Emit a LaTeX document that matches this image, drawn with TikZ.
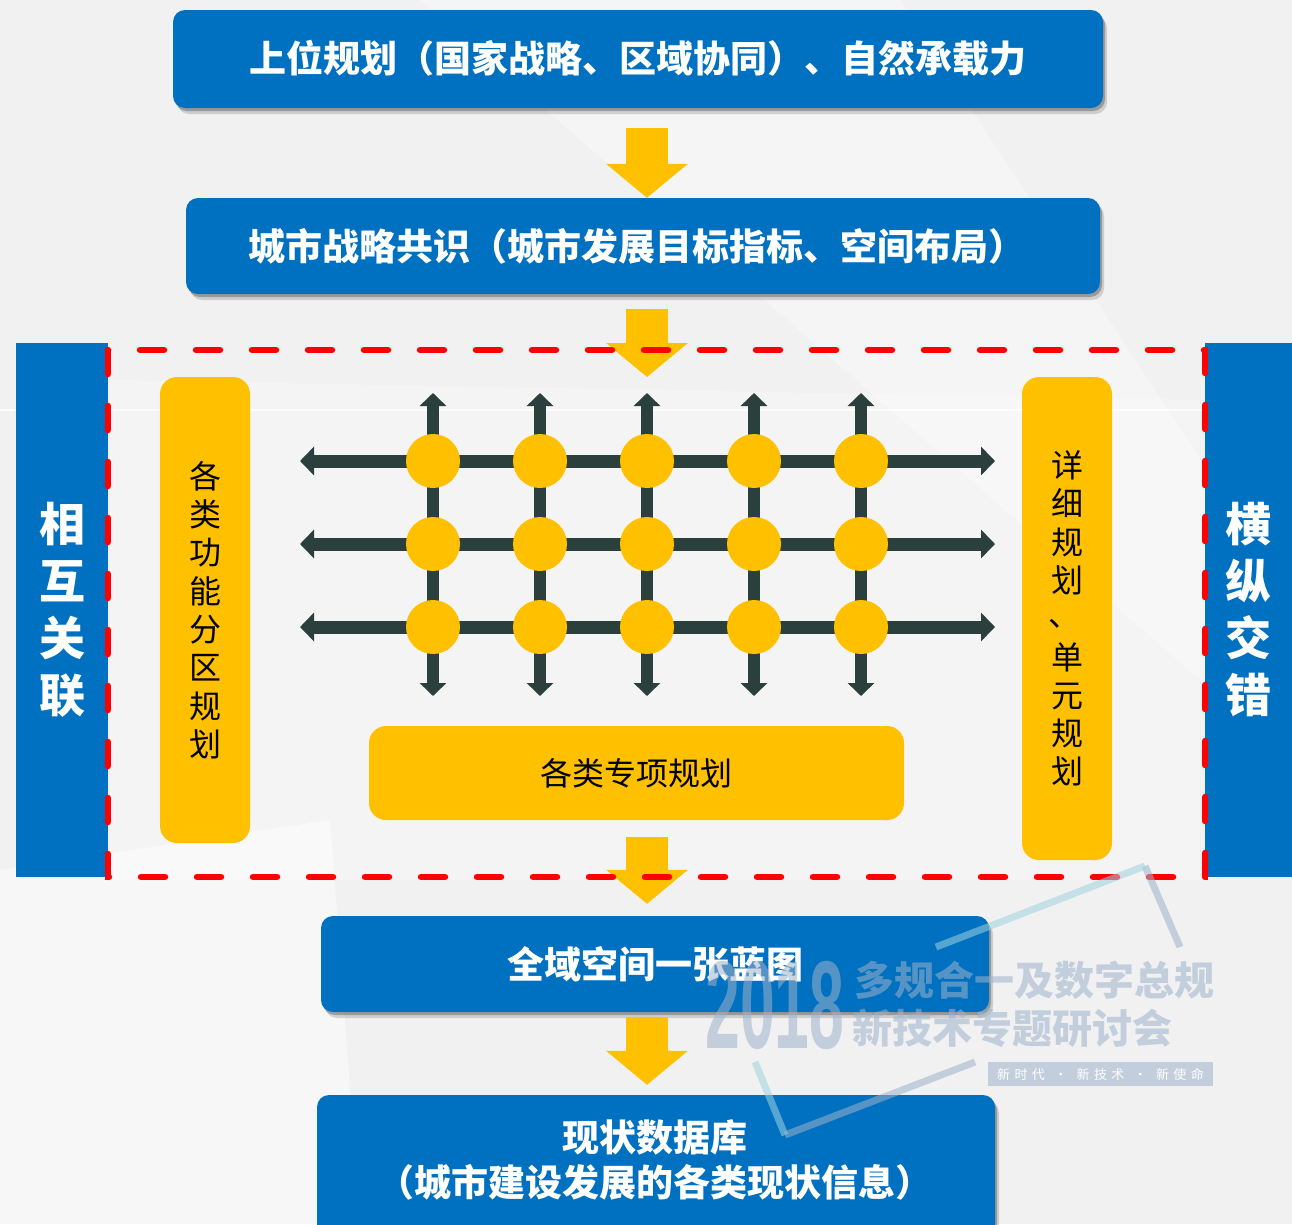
\documentclass[tikz,border=0pt]{standalone}
\usepackage{fontspec}
\newfontfamily\cjk{Noto Sans CJK SC}
\newfontfamily\wmlat{Liberation Sans}
\usetikzlibrary{arrows.meta,shadows,calc}
\definecolor{pblue}{HTML}{0070C0}
\definecolor{pyellow}{HTML}{FFC000}
\definecolor{pdark}{HTML}{2B3F3D}
\definecolor{pred}{HTML}{FF0000}
\definecolor{bggray}{HTML}{F1F1F1}
\definecolor{wmgray}{HTML}{9FB3CC}
\definecolor{wmteal}{HTML}{9ED3DF}
\begin{document}
\begin{tikzpicture}[x=1pt,y=-1pt,
  bluebox/.style={fill=pblue, rounded corners=12pt, inner sep=0pt, text=white,
    font=\cjk\bfseries\fontsize{37}{45}\selectfont,
    drop shadow={shadow xshift=2pt,shadow yshift=-3pt,opacity=.25,fill=black},
    drop shadow={shadow xshift=4pt,shadow yshift=-6pt,opacity=.15,fill=black}},
  bluebar/.style={fill=pblue, inner sep=0pt, text=white, align=center,
    font=\cjk\bfseries\fontsize{46}{57}\selectfont},
  yellowbox/.style={fill=pyellow, rounded corners=17pt, inner sep=0pt, text=black, align=center,
    font=\cjk\fontsize{32}{38.3}\selectfont},
  yarrow/.style={draw=pyellow, line width=42pt, -{Triangle[width=80pt,length=34pt]}},
  gridh/.style={draw=pdark, line width=13pt, {Triangle[width=28pt,length=14pt]}-{Triangle[width=28pt,length=14pt]}},
  gridv/.style={draw=pdark, line width=12pt, {Triangle[width=26pt,length=13pt]}-{Triangle[width=26pt,length=13pt]}},
  dot/.style={circle, fill=pyellow, minimum size=54pt, inner sep=0pt},
  dashframe/.style={draw=pred, line width=6.5pt, line cap=round, dash pattern=on 24pt off 32pt},
  wmtext/.style={text=wmgray, opacity=.55, inner sep=0pt},
  wmline/.style={line width=7pt, opacity=.55}
]
\clip (0,0) rectangle (1292,1224);
% background
\fill[bggray] (0,0) rectangle (1292,1224);
\fill[white, opacity=.45] (0,870) -- (330,820) -- (360,1224) -- (0,1224) -- cycle;
\fill[white, opacity=.35] (420,0) -- (900,0) -- (1292,600) -- (1292,760) -- cycle;
\fill[white, opacity=.25] (110,380) -- (1200,400) -- (1200,880) -- (110,880) -- cycle;
\draw[white, line width=1.5pt, opacity=.8] (0,410) -- (1292,410);

% top boxes
\node[bluebox, minimum width=930pt, minimum height=98pt] (b1) at (638,59) {};
\node[text=white, font=\cjk\bfseries\fontsize{37}{45}\selectfont, inner sep=0pt] (b1t) at (638,58) {上位规划（国家战略、区域协同）、自然承载力};
\node[bluebox, minimum width=914pt, minimum height=96pt] (b2) at (643,246) {};
\node[text=white, font=\cjk\bfseries\fontsize{37}{45}\selectfont, inner sep=0pt] (b2t) at (637,246) {城市战略共识（城市发展目标指标、空间布局）};

\coordinate (ax) at (647,0);
\coordinate (a2end) at (647,377);
\draw[yarrow] ($(b1.south -| ax)+(0,20)$) -- (b2.north -| ax);
\draw[yarrow] ($(b2.south -| ax)+(0,15)$) -- (a2end);

% side bars
\node[bluebar, minimum width=92pt, minimum height=534pt] (lbar) at (62,610) {相\\互\\关\\联};
\node[bluebar, minimum width=87pt, minimum height=534pt] (rbar) at (1248.5,610) {横\\纵\\交\\错};

% yellow side boxes
\node[yellowbox, minimum width=90pt, minimum height=466pt] (lyb) at (205,610) {各\\类\\功\\能\\分\\区\\规\\划};
\node[yellowbox, minimum width=90pt, minimum height=483pt] (ryb) at (1067,618.5) {详\\细\\规\\划\\\hspace*{-6pt}\raisebox{4pt}{、}\\单\\元\\规\\划};
\node[yellowbox, minimum width=535pt, minimum height=94pt] (spec) at (636.5,773) {各类专项规划};

% grid
\foreach \i/\yy in {1/461,2/544,3/627}{
  \coordinate (hl\i) at (300,\yy);
  \coordinate (hr\i) at (995,\yy);
  \draw[gridh] (hl\i) -- (hr\i);
}
\foreach \j/\xx in {1/433,2/540,3/647,4/754,5/861}{
  \coordinate (vt\j) at (\xx,393);
  \coordinate (vb\j) at (\xx,696);
  \draw[gridv] (vt\j) -- (vb\j);
}
\foreach \i/\yy in {1/461,2/544,3/627}{
  \foreach \j/\xx in {1/433,2/540,3/647,4/754,5/861}{
    \node[dot] (c\i\j) at (\xx,\yy) {};
  }
}

% lower boxes
\node[bluebox, minimum width=668pt, minimum height=96pt] (b4) at (655,964) {全域空间一张蓝图};
\node[bluebox, minimum width=678pt, minimum height=150pt] (b5) at (656,1170) {};
\node[text=white, font=\cjk\bfseries\fontsize{37}{45}\selectfont, align=center, inner sep=0pt] (b5t) at (655,1160) {现状数据库\\（城市建设发展的各类现状信息）};

\draw[yarrow] ($(spec.south -| ax)+(0,17)$) -- ($(b4.north -| ax)+(0,-12)$);
\draw[yarrow] ($(b4.south -| ax)+(0,5)$) -- ($(b5.north -| ax)+(0,-10)$);

% dashed frame
\draw[dashframe] (108,350) rectangle (1205,877);

% watermark
\draw[wmline, draw=wmgray] (1145,866) -- (1180,947);
\draw[wmline, draw=wmteal] (1145,866) -- (936,947);
\draw[wmline, draw=wmteal] (755,1062) -- (785,1135);
\draw[wmline, draw=wmgray] (785,1135) -- (975,1062);
\node[wmtext] (wm1) at (775,1005) {\scalebox{0.5}[1]{\wmlat\bfseries\fontsize{125}{125}\selectfont 2018}};
\node[wmtext, font=\cjk\bfseries\fontsize{40}{44}\selectfont] (wm2) at (1034,980) {多规合一及数字总规};
\node[wmtext, font=\cjk\bfseries\fontsize{40}{44}\selectfont] (wm3) at (1012,1028) {新技术专题研讨会};
\node[fill=wmgray, opacity=.55, text opacity=1, text=white, minimum width=225pt, minimum height=24pt, inner sep=0pt, font=\cjk\fontsize{13}{15}\selectfont] (wm4) at (1100.5,1074) {新\,\,时\,\,代\,\,\, · \,\,\,新\,\,技\,\,术\,\,\, · \,\,\,新\,\,使\,\,命};
\end{tikzpicture}
\end{document}
